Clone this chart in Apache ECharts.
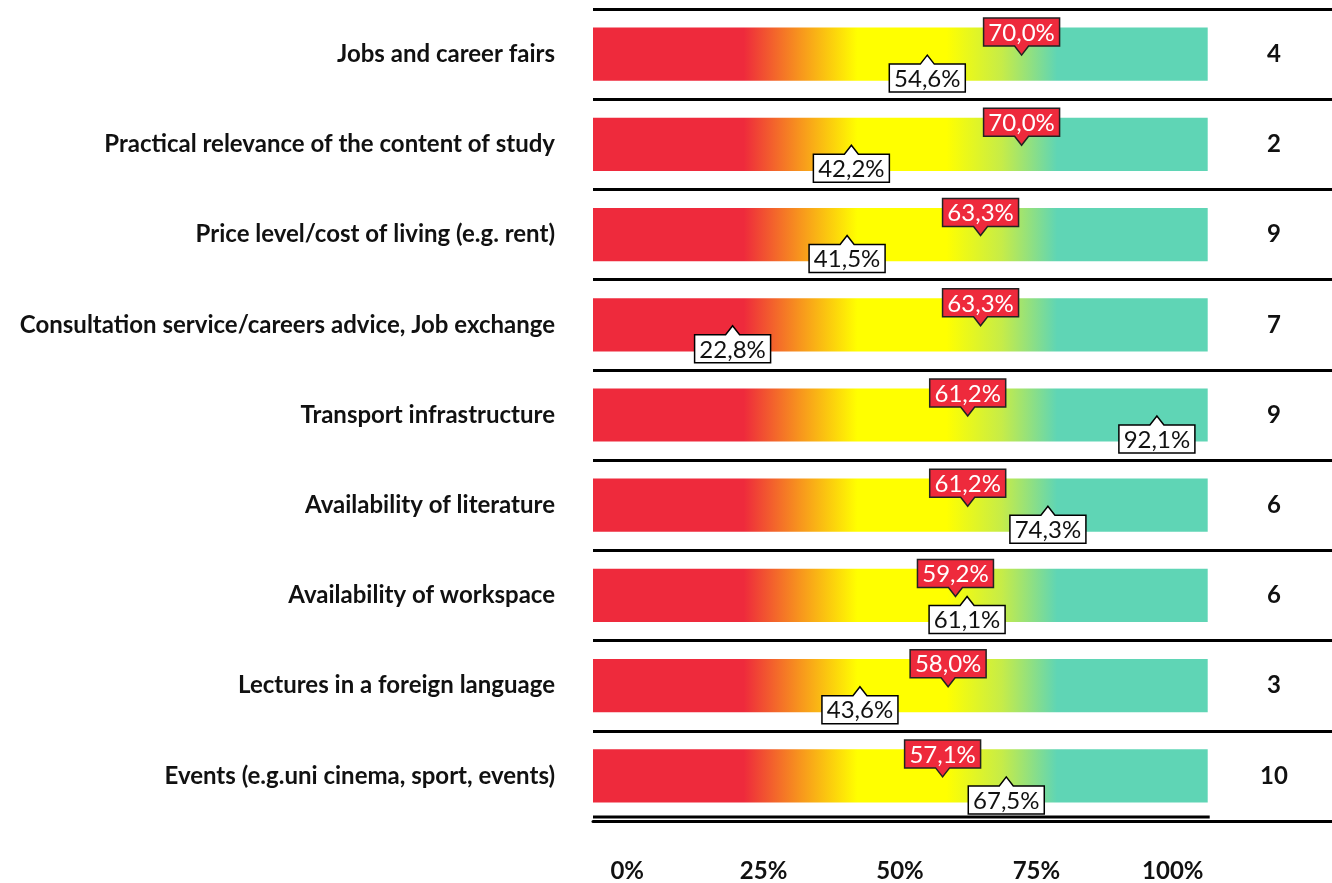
<!DOCTYPE html>
<html>

	<head>
		<meta charset="UTF-8">
		<title></title>
		<script src="https://cdn.jsdelivr.net/npm/echarts@6/dist/echarts.min.js"></script>
		<style>
			html, body { margin: 0; padding: 0; background: #fff; }
		</style>
	</head>

	<body>
		<div id="main" style="width: 1332px;height:883px;"></div>

		<script type="text/javascript">
			// rows, top to bottom
			var categories = [
				'Jobs and career fairs',
				'Practical relevance of the content of study',
				'Price level/cost of living (e.g. rent)',
				'Consultation service/careers advice, Job exchange',
				'Transport infrastructure',
				'Availability of literature',
				'Availability of workspace',
				'Lectures in a foreign language',
				'Events (e.g.uni cinema, sport, events)'
			];
			var redValues = [70.0, 70.0, 63.3, 63.3, 61.2, 61.2, 59.2, 58.0, 57.1];
			var whiteValues = [54.6, 42.2, 41.5, 22.8, 92.1, 74.3, 61.1, 43.6, 67.5];
			var counts = ['4', '2', '9', '7', '9', '6', '6', '3', '10'];
			var tickLabels = ['0%', '25%', '50%', '75%', '100%'];
			var barEnd = 100.4;

			var RED = '#EE2A3C';
			var FONT = 'Lato';

			function fmt(v) {
				return v.toFixed(1).replace('.', ',') + '%';
			}

			function markerSeries(values, up) {
				return {
					type: 'custom',
					xAxisIndex: 0,
					yAxisIndex: 0,
					z: up ? 5 : 6,
					data: values.map(function(v, i) { return [v, i]; }),
					renderItem: function(params, api) {
						var pt = api.coord([api.value(0), api.value(1)]);
						var x = pt[0], ty = pt[1] + 1;
						var W = 76, H = 28, pw = 7, ph = 9;
						var pts, cy;
						if(up) {
							var t = ty + ph;
							pts = [[x - W / 2, t], [x - pw, t], [x, ty], [x + pw, t], [x + W / 2, t], [x + W / 2, t + H], [x - W / 2, t + H]];
							cy = t + H / 2;
						} else {
							var b = ty - ph;
							pts = [[x - W / 2, b - H], [x + W / 2, b - H], [x + W / 2, b], [x + pw, b], [x, ty], [x - pw, b], [x - W / 2, b]];
							cy = b - H / 2;
						}
						return {
							type: 'group',
							children: [{
								type: 'polygon',
								shape: { points: pts },
								style: {
									fill: up ? '#fff' : RED,
									stroke: up ? '#000' : '#222',
									lineWidth: 1.5
								}
							}, {
								type: 'text',
								x: x,
								y: cy + 1,
								style: {
									text: fmt(api.value(0)),
									fill: up ? '#111' : '#fff',
									font: '24px ' + FONT,
									align: 'center',
									verticalAlign: 'middle'
								}
							}]
						};
					}
				};
			}

			option = {
				animation: false,
				backgroundColor: '#fff',
				grid: [{
					left: 593,
					right: 0,
					top: 9,
					bottom: 62
				}, {
					left: 559,
					width: 682,
					top: 855,
					height: 2
				}],
				xAxis: [{
					type: 'value',
					gridIndex: 0,
					min: 0,
					max: 120.7,
					axisLine: { show: true, onZero: false, lineStyle: { color: '#000', width: 3 } },
					axisTick: { show: false },
					axisLabel: { show: false },
					splitLine: { show: false }
				}, {
					type: 'category',
					gridIndex: 1,
					data: tickLabels,
					axisLine: { show: false },
					axisTick: { show: false },
					axisLabel: {
						margin: 2,
						color: '#111',
						fontFamily: FONT,
						fontWeight: 'bold',
						fontSize: 24
					}
				}],
				yAxis: [{
					type: 'category',
					gridIndex: 0,
					inverse: true,
					data: categories,
					axisLine: { show: false },
					axisTick: { show: false },
					axisLabel: {
						margin: 38,
						color: '#111',
						fontFamily: FONT,
						fontWeight: 'bold',
						fontSize: 24
					},
					splitLine: { show: true, lineStyle: { color: '#000', width: 3 } }
				}, {
					type: 'category',
					gridIndex: 0,
					inverse: true,
					position: 'right',
					offset: -58,
					data: counts,
					axisLine: { show: false },
					axisTick: { show: false },
					axisLabel: {
						margin: 0,
						align: 'center',
						color: '#111',
						fontFamily: FONT,
						fontWeight: 'bold',
						fontSize: 24
					},
					splitLine: { show: false }
				}, {
					type: 'value',
					gridIndex: 1,
					show: false
				}],
				series: [{
					type: 'bar',
					xAxisIndex: 0,
					yAxisIndex: 0,
					barWidth: '59%',
					data: categories.map(function() { return barEnd; }),
					itemStyle: {
						color: new echarts.graphic.LinearGradient(0, 0, 1, 0, [
							{ offset: 0, color: RED },
							{ offset: 0.245, color: RED },
							{ offset: 0.335, color: '#F7931E' },
							{ offset: 0.43, color: '#FFFF00' },
							{ offset: 0.575, color: '#FFFF00' },
							{ offset: 0.665, color: '#C6EC48' },
							{ offset: 0.755, color: '#5FD5B5' },
							{ offset: 1, color: '#5FD5B5' }
						])
					}
				}, {
					// short inner line of the double rule under the last row
					type: 'custom',
					xAxisIndex: 0,
					yAxisIndex: 0,
					data: [[barEnd, categories.length - 1]],
					renderItem: function(params, api) {
						var a = api.coord([0, api.value(1)]);
						var b = api.coord([api.value(0), api.value(1)]);
						var band = api.size([0, 1])[1];
						var y = a[1] + band / 2 - 4;
						return {
							type: 'line',
							shape: { x1: a[0], y1: y, x2: b[0] + 2, y2: y },
							style: { stroke: '#000', lineWidth: 3 }
						};
					}
				},
				markerSeries(whiteValues, true),
				markerSeries(redValues, false)]
			};

			echarts.init(document.getElementById('main')).setOption(option);
		</script>
	</body>

</html>
